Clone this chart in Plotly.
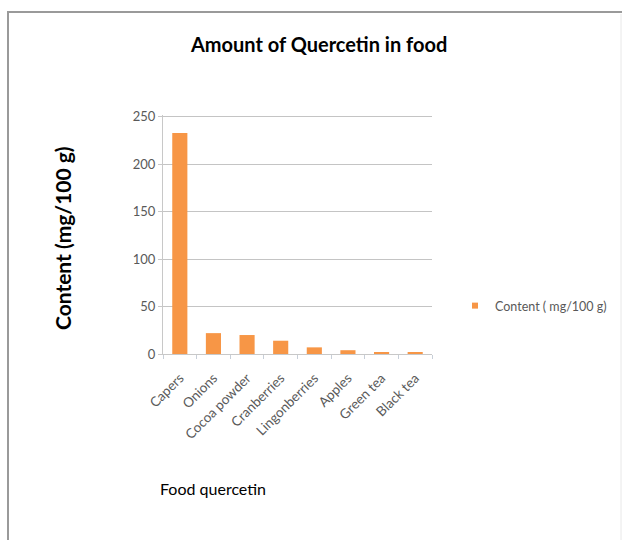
import plotly.graph_objects as go

categories = ["Capers", "Onions", "Cocoa powder", "Cranberries", "Lingonberries", "Apples", "Green tea", "Black tea"]
content = [233, 22, 20, 14, 7, 4, 2, 1.5]
series_name = "Content ( mg/100 g)"
y_ticks = [0, 50, 100, 150, 200, 250]

W, H = 627, 540
L, R, T, B = 163, 195, 115, 186
pw, ph = W - L - R, H - T - B

def px(x):
    return (x - L) / pw

def py(y):
    return (H - B - y) / ph

BAR = "#F79646"
fig = go.Figure()
fig.add_trace(go.Bar(
    x=categories, y=content, name=series_name,
    marker=dict(color=BAR, line=dict(width=0)),
    showlegend=False, legendgroup="c",
))
# legend entry (small square like the original)
fig.add_trace(go.Scatter(
    x=[None], y=[None], mode="markers", name=series_name, legendgroup="c",
    marker=dict(symbol="square", size=6, color=BAR), showlegend=True,
))

font_family = "Lato, 'Open Sans', sans-serif"

fig.update_layout(
    width=W, height=H,
    margin=dict(l=L, r=R, t=T, b=B),
    paper_bgcolor="white", plot_bgcolor="white",
    bargap=0.55,
    font=dict(family=font_family, color="#595959", size=12),
    title=dict(text="Amount of Quercetin in food", x=0.509, xanchor="center",
               y=1 - 45 / H, yanchor="middle",
               font=dict(size=20, color="#000000", family=font_family, weight="bold")),
    xaxis=dict(
        showline=True, linecolor="#c8c8c8", linewidth=1,
        ticks="outside", ticklen=4, tickcolor="#c8cfd8",
        tickson="boundaries",
        tickangle=-45, tickfont=dict(size=13.5, color="#595959"),
        ticklabelstandoff=10,
        showgrid=False,
    ),
    yaxis=dict(
        range=[0, 252], tickvals=y_ticks,
        showline=True, linecolor="#c8c8c8", linewidth=1,
        ticks="outside", ticklen=4, tickcolor="#c8c8c8",
        showgrid=True, gridcolor="#c4c4c4", gridwidth=1,
        tickfont=dict(size=13, color="#595959"),
        zeroline=False,
    ),
    legend=dict(x=px(455), y=py(306), xanchor="left", yanchor="middle",
                font=dict(size=12.5, color="#595959"), bgcolor="rgba(0,0,0,0)",
                itemwidth=30),
    annotations=[
        dict(text="<b>Content (mg/100 g)</b>", xref="paper", yref="paper",
             x=px(62), y=py(238), textangle=-90, showarrow=False,
             xanchor="center", yanchor="middle",
             font=dict(size=21, color="#000000", family=font_family)),
        dict(text="Food quercetin", xref="paper", yref="paper",
             x=px(213), y=py(488), showarrow=False,
             xanchor="center", yanchor="middle",
             font=dict(size=16, color="#000000", family=font_family)),
    ],
    shapes=[
        dict(type="line", xref="paper", yref="paper", x0=px(7), x1=px(622), y0=py(12), y1=py(12),
             line=dict(color="#9a9a9a", width=2)),
        dict(type="line", xref="paper", yref="paper", x0=px(8), x1=px(8), y0=py(12), y1=py(545),
             line=dict(color="#9a9a9a", width=2)),
        dict(type="line", xref="paper", yref="paper", x0=px(621), x1=px(621), y0=py(14), y1=py(545),
             line=dict(color="#e8e8e8", width=1)),
    ],
)

fig.write_html("out.html")
